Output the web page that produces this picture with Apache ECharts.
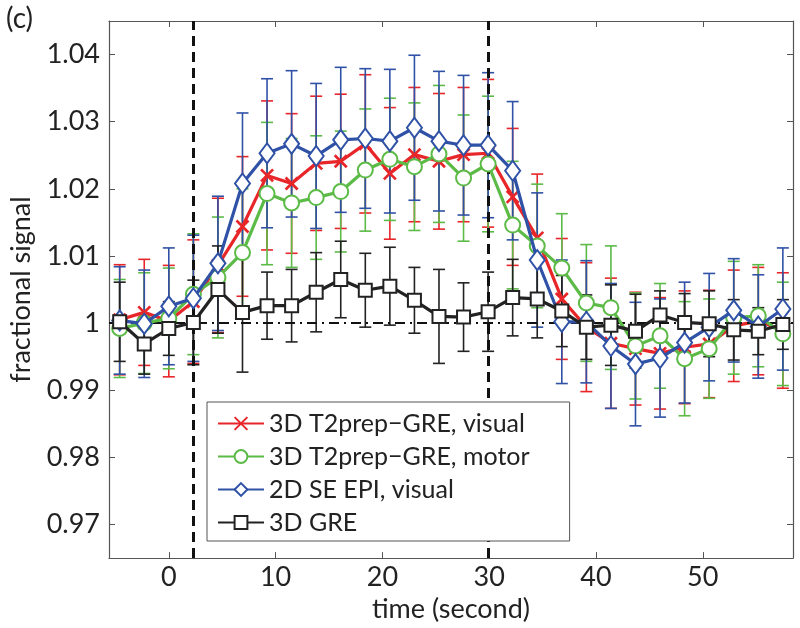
<!DOCTYPE html>
<html>
<head>
<meta charset="utf-8">
<script src="https://cdn.jsdelivr.net/npm/echarts@6/dist/echarts.min.js"></script>
<style>
html,body{margin:0;padding:0;background:#fff;}
#chart{width:800px;height:628px;}
</style>
</head>
<body>
<div id="chart"></div>
<script>
const time = [-4.6,-2.3,0,2.3,4.6,6.9,9.2,11.5,13.8,16.1,18.4,20.7,23.0,25.3,27.6,29.9,32.2,34.5,36.8,39.1,41.4,43.7,46.0,48.3,50.6,52.9,55.2,57.5];

const redVals = [1.0005,1.0016,1.0003,1.0032,1.0086,1.0144,1.0220,1.0208,1.0238,1.0241,1.0267,1.0223,1.0251,1.0241,1.0251,1.0253,1.0188,1.0127,1.0036,0.9994,0.9970,0.9962,0.9955,0.9964,0.9969,0.9996,1.0003,0.9989];
const redErr = [0.0082,0.0079,0.0083,0.0092,0.0100,0.0104,0.0111,0.0104,0.0100,0.0100,0.0103,0.0098,0.0100,0.0101,0.0100,0.0110,0.0102,0.0095,0.0090,0.0096,0.0097,0.0084,0.0083,0.0084,0.0080,0.0083,0.0080,0.0086];

const greenVals = [0.9992,1.0000,1.0007,1.0043,1.0068,1.0105,1.0193,1.0179,1.0187,1.0196,1.0228,1.0244,1.0233,1.0252,1.0216,1.0237,1.0146,1.0115,1.0082,1.0030,1.0023,0.9966,0.9981,0.9947,0.9962,1.0008,1.0011,0.9984];
const greenErr = [0.0073,0.0075,0.0075,0.0090,0.0090,0.0095,0.0106,0.0096,0.0092,0.0090,0.0091,0.0091,0.0095,0.0102,0.0094,0.0101,0.0095,0.0092,0.0081,0.0087,0.0092,0.0079,0.0078,0.0085,0.0074,0.0084,0.0076,0.0077];

const blueVals = [1.0004,0.9999,1.0025,1.0037,1.0089,1.0208,1.0253,1.0267,1.0249,1.0273,1.0275,1.0271,1.0291,1.0271,1.0265,1.0265,1.0227,1.0094,1.0002,1.0002,0.9966,0.9939,0.9948,0.9971,0.9994,1.0019,0.9995,1.0021];
const blueErr = [0.0080,0.0080,0.0087,0.0094,0.0100,0.0105,0.0111,0.0109,0.0108,0.0108,0.0104,0.0107,0.0108,0.0104,0.0104,0.0108,0.0103,0.0100,0.0092,0.0091,0.0093,0.0092,0.0088,0.0090,0.0080,0.0077,0.0077,0.0091];

const blackVals = [1.0002,0.9969,0.9992,1.0001,1.0050,1.0016,1.0026,1.0026,1.0046,1.0065,1.0049,1.0055,1.0034,1.0010,1.0009,1.0017,1.0038,1.0036,1.0018,0.9994,0.9997,0.9988,1.0012,1.0001,0.9999,0.9990,0.9988,0.9998];
const blackErr = [0.0059,0.0045,0.0040,0.0063,0.0065,0.0089,0.0050,0.0054,0.0059,0.0057,0.0055,0.0058,0.0049,0.0070,0.0051,0.0059,0.0057,0.0058,0.0053,0.0048,0.0060,0.0055,0.0036,0.0043,0.0049,0.0045,0.0035,0.0037];

const seriesNames = ['3D T2prep\u2212GRE, visual','3D T2prep\u2212GRE, motor','2D SE EPI, visual','3D GRE'];
const stimulusLines = [2.3, 29.9];
const baseline = 1;

const FONT = 'Lato';
const AX = '#555';

const chart = echarts.init(document.getElementById('chart'));

function errData(vals, err){
  return time.map((t,i)=>[t, vals[i]-err[i], vals[i]+err[i]]);
}
function lineData(vals){
  return time.map((t,i)=>[t, vals[i]]);
}
function errSeries(name, vals, err, color, z){
  return {
    type:'custom', name: name+'_err', z: z, silent:true,
    data: errData(vals, err),
    renderItem: function(params, api){
      const x = api.value(0);
      const lo = api.coord([x, api.value(1)]);
      const hi = api.coord([x, api.value(2)]);
      const w = 6;
      const st = {stroke: color, lineWidth: 1.6};
      return {type:'group', children:[
        {type:'line', shape:{x1:lo[0],y1:lo[1],x2:hi[0],y2:hi[1]}, style:st},
        {type:'line', shape:{x1:lo[0]-w,y1:lo[1],x2:lo[0]+w,y2:lo[1]}, style:st},
        {type:'line', shape:{x1:hi[0]-w,y1:hi[1],x2:hi[0]+w,y2:hi[1]}, style:st}
      ]};
    }
  };
}
function lineSeries(name, vals, color, symbol, size, z){
  return {
    type:'line', name:name, z:z, data: lineData(vals),
    symbol: symbol, symbolSize: size, showAllSymbol:true,
    lineStyle:{color:color, width:3.2},
    itemStyle:{color: color, borderColor:color, borderWidth:2.7},
    emphasis:{disabled:true}, animation:false
  };
}

const red = '#e8262a', green = '#5cba47', blue = '#2f51a6', black = '#222222';
const xSym = 'path://M0,0L10,10M10,0L0,10';

const option = {
  animation:false,
  backgroundColor:'#fff',
  title:{text:'(c)', left:1, top:0, textStyle:{fontFamily:FONT, fontSize:28, fontWeight:'normal', color:'#222'}},
  grid:{left:106, top:21, right:7, bottom:65},
  legend:{
    orient:'vertical', left:207, top:402,
    data: seriesNames,
    backgroundColor:'#fff', borderColor:'#555', borderWidth:1,
    padding:[9,40,6,10],
    itemWidth:46, itemHeight:16, itemGap:8,
    textStyle:{fontFamily:FONT, fontSize:25, color:'#222', lineHeight:25},
    selectedMode:false, z:10
  },
  xAxis:[{
    type:'value', min:-5.6, max:58.45, splitNumber:6,
    name:'time (second)', nameLocation:'middle', nameGap:33,
    nameTextStyle:{fontFamily:FONT, fontSize:27, color:'#222'},
    axisLine:{show:true, onZero:false, lineStyle:{color:AX, width:1.2}},
    axisTick:{show:true, inside:true, length:6, lineStyle:{color:AX}},
    axisLabel:{fontFamily:FONT, fontSize:27, color:'#222', margin:6, showMinLabel:false, showMaxLabel:false},
    splitLine:{show:false}
  },{
    type:'value', position:'top', min:-5.6, max:58.45, splitNumber:6,
    axisLine:{show:true, onZero:false, lineStyle:{color:AX, width:1.2}},
    axisTick:{show:true, inside:true, length:6, lineStyle:{color:AX}},
    axisLabel:{show:false}, splitLine:{show:false}
  }],
  yAxis:[{
    type:'value', min:0.965, max:1.045, splitNumber:8,
    name:'fractional signal', nameLocation:'middle', nameGap:74, nameRotate:90,
    nameTextStyle:{fontFamily:FONT, fontSize:27, color:'#222'},
    axisLine:{show:true, onZero:false, lineStyle:{color:AX, width:1.2}},
    axisTick:{show:true, inside:true, length:6, lineStyle:{color:AX}},
    axisLabel:{fontFamily:FONT, fontSize:27, color:'#222', margin:9, showMinLabel:false, showMaxLabel:false,
      formatter: v => (Math.abs(v-1)<1e-9 ? '1' : v.toFixed(2))},
    splitLine:{show:false}
  },{
    type:'value', position:'right', min:0.965, max:1.045, splitNumber:8,
    axisLine:{show:true, onZero:false, lineStyle:{color:AX, width:1.2}},
    axisTick:{show:true, inside:true, length:6, lineStyle:{color:AX}},
    axisLabel:{show:false}, splitLine:{show:false}
  }],
  series:[
    {
      type:'line', name:'refs', data:[], silent:true, z:1,
      markLine:{
        silent:true, symbol:['none','none'], label:{show:false}, animation:false,
        data: [
          ...stimulusLines.map(x=>({xAxis:x, lineStyle:{color:'#111', type:[10,6], width:3}})),
          {yAxis:baseline, lineStyle:{color:'#111', type:[10,5,2,5], width:2.2}}
        ]
      }
    },
    errSeries(seriesNames[0], redVals, redErr, red, 3),
    errSeries(seriesNames[1], greenVals, greenErr, green, 3),
    errSeries(seriesNames[2], blueVals, blueErr, blue, 3),
    errSeries(seriesNames[3], blackVals, blackErr, black, 3),
    lineSeries(seriesNames[0], redVals, red, xSym, 12, 4),
    lineSeries(seriesNames[1], greenVals, green, 'emptyCircle', 15, 5),
    lineSeries(seriesNames[2], blueVals, blue, 'emptyDiamond', [15,20], 6),
    lineSeries(seriesNames[3], blackVals, black, 'emptyRect', 13, 7)
  ]
};
chart.setOption(option);
</script>
</body>
</html>
